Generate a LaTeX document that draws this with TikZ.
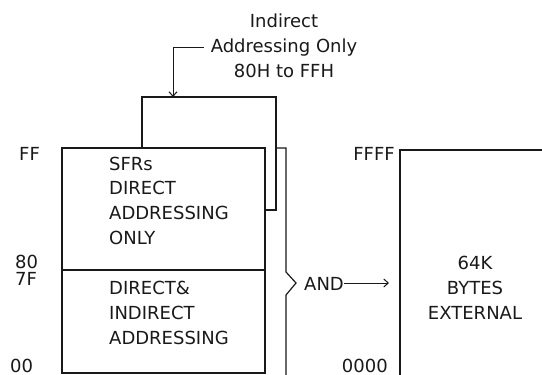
\documentclass[tikz,border=0pt]{standalone}
\usepackage{fontspec}
\setmainfont{DejaVu Sans}
\usetikzlibrary{arrows.meta}
\begin{document}
\begin{tikzpicture}[x=1pt,y=-1pt,
  line/.style={line width=1.2pt,black!90},
  arr/.style={line/.try,line width=1pt,-{Straight Barb[length=4.5pt,width=8pt]}},
  lbl/.style={font=\fontsize{18}{25}\selectfont,inner sep=0pt,text=black!90},
]
\useasboundingbox (0,0) rectangle (542,375);
% internal RAM boxes
\draw[line] (62,148) rectangle (265,373);
\draw[line] (62,270) -- (265,270);
% indirect region outline
\coordinate (indtop) at (173,97);
\draw[line] (142,148) -- (142,97) -- (276,97) -- (276,210) -- (265,210);
% brace
\draw[line,line join=miter] (276,148) -- (286,148) -- (286,272) -- (296,283) -- (286,295) -- (286,375);
% external box
\draw[line] (400,375) -- (400,150) -- (542,150);
% top label
\node[lbl,anchor=base] (ind1) at (284,27) {Indirect};
\node[lbl,anchor=base] (ind2) at (284,52) {Addressing Only};
\node[lbl,anchor=base] (ind3) at (284,77) {80H to FFH};
\draw[arr] ([xshift=-7pt]ind2.west) -| (indtop);
% address labels
\node[lbl,anchor=base west] (ff) at (19,160) {FF};
\node[lbl,anchor=base west] (a80) at (15,268) {80};
\node[lbl,anchor=base west] (a7f) at (15,285) {7F};
\node[lbl,anchor=base west] (a00) at (10,372) {00};
\node[lbl,anchor=base east] (ffff) at (395,160) {FFFF};
\node[lbl,anchor=base east] (a0000) at (388,372) {0000};
% box texts
\node[lbl,anchor=base west] (sfr) at (109,170) {SFRs};
\node[lbl,anchor=base west] (sfr2) at (109,194) {DIRECT};
\node[lbl,anchor=base west] (sfr3) at (109,219) {ADDRESSING};
\node[lbl,anchor=base west] (sfr4) at (109,244) {ONLY};
\node[lbl,anchor=base west] (lo1) at (109,294) {DIRECT\&};
\node[lbl,anchor=base west] (lo2) at (109,319) {INDIRECT};
\node[lbl,anchor=base west] (lo3) at (109,344) {ADDRESSING};
\node[lbl,anchor=base] (ex1) at (475,269) {64K};
\node[lbl,anchor=base] (ex2) at (475,294) {BYTES};
\node[lbl,anchor=base] (ex3) at (475,319) {EXTERNAL};
% AND arrow
\node[lbl,anchor=base west] (and) at (304,290) {AND};
\coordinate (andend) at (389,283);
\draw[arr] (and.east |- andend) -- (andend);
\end{tikzpicture}
\end{document}
